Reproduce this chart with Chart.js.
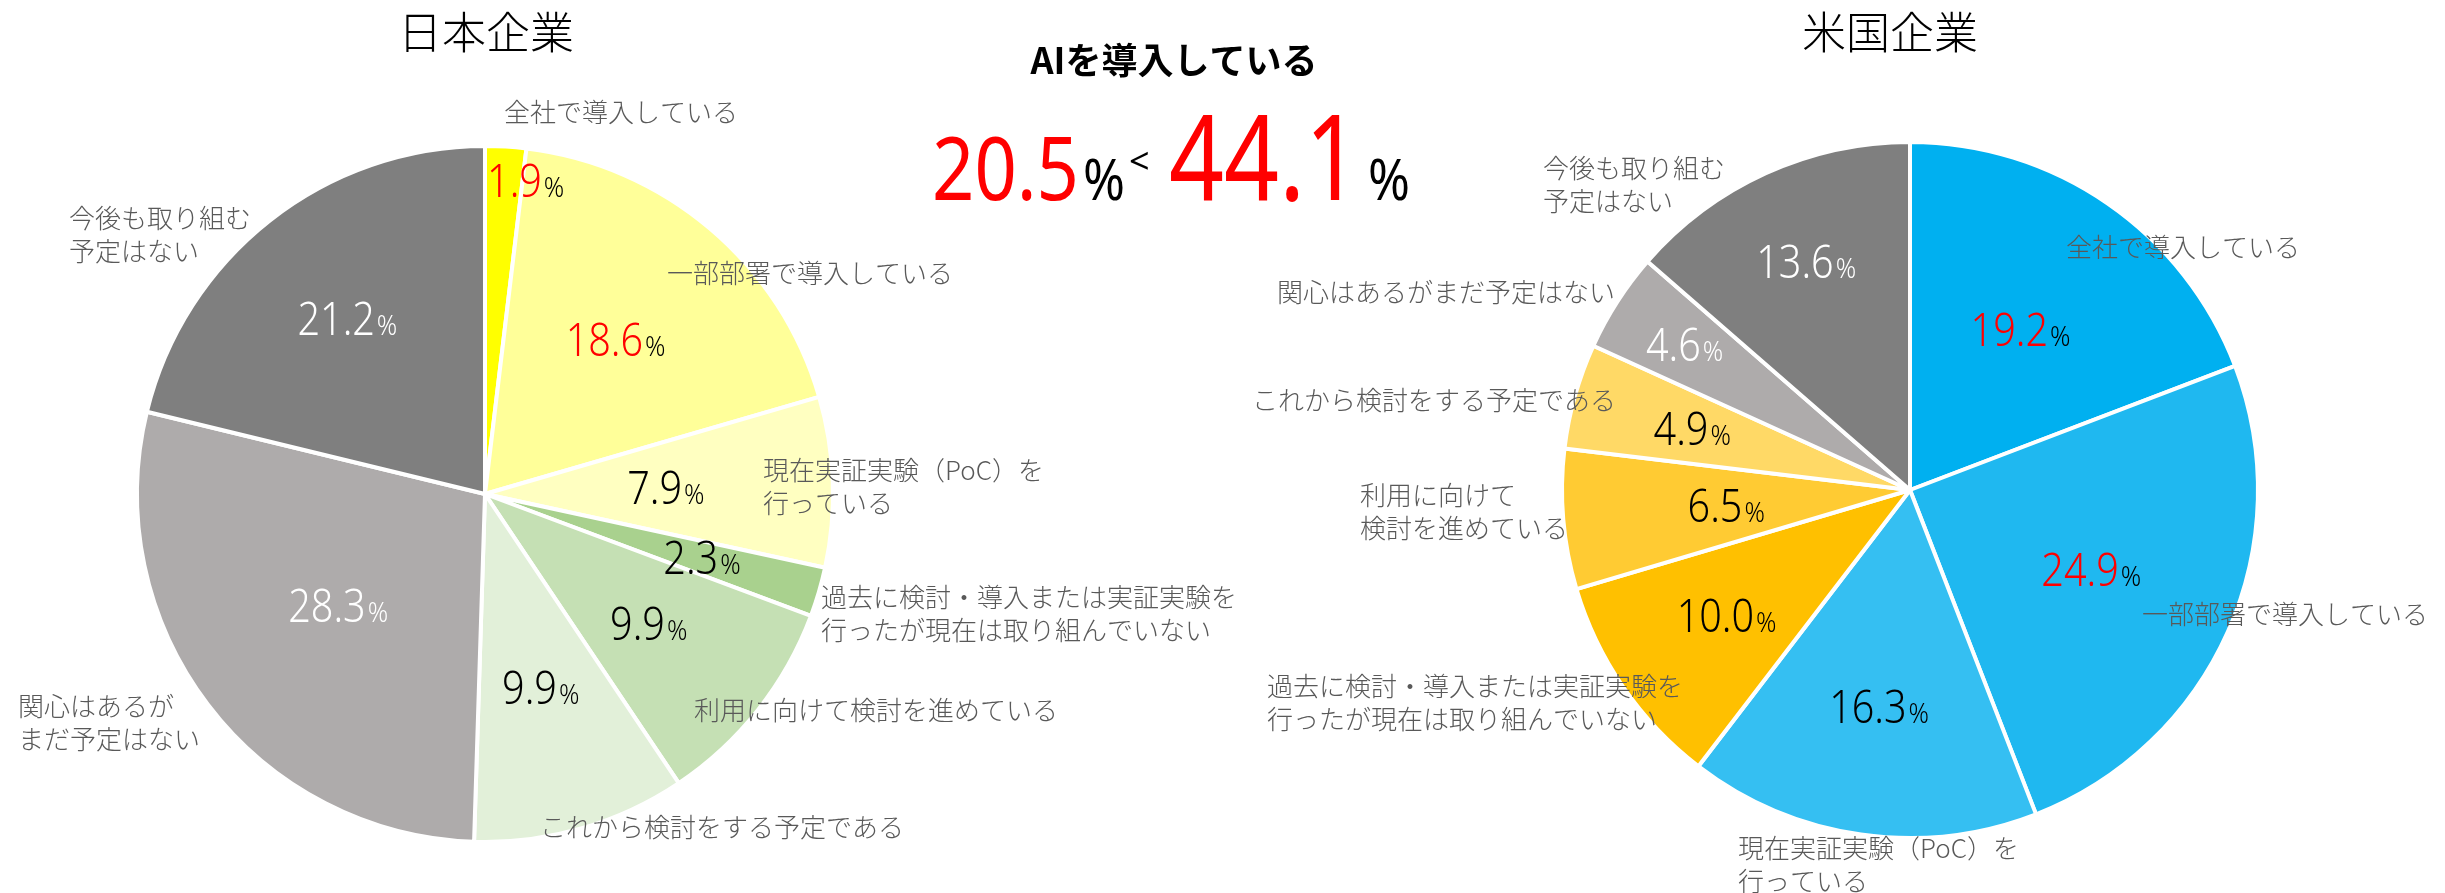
<!DOCTYPE html>
<html>
<head>
<meta charset="utf-8">
<script src="https://cdn.jsdelivr.net/npm/chart.js@4.4.0/dist/chart.umd.min.js"></script>
<style>
  html, body { margin: 0; padding: 0; background: #fff; }
  #wrap { position: relative; width: 2445px; height: 893px; }
  #wrap canvas { position: absolute; left: 0; top: 0; }
</style>
</head>
<body>
<div id="wrap">
  <canvas id="jpChart" width="2445" height="893"></canvas>
  <canvas id="usChart" width="2445" height="893"></canvas>
</div>
<script>
// --- data ---
var jpTitle = "日本企業";
var usTitle = "米国企業";
var headline = "AIを導入している";

var jpLabels = [
  ["全社で導入している"],
  ["一部部署で導入している"],
  ["現在実証実験（PoC）を", "行っている"],
  ["過去に検討・導入または実証実験を", "行ったが現在は取り組んでいない"],
  ["利用に向けて検討を進めている"],
  ["これから検討をする予定である"],
  ["関心はあるが", "まだ予定はない"],
  ["今後も取り組む", "予定はない"]
];
var jpValues = [1.9, 18.6, 7.9, 2.3, 9.9, 9.9, 28.3, 21.2];

var usLabels = [
  ["全社で導入している"],
  ["一部部署で導入している"],
  ["現在実証実験（PoC）を", "行っている"],
  ["過去に検討・導入または実証実験を", "行ったが現在は取り組んでいない"],
  ["利用に向けて", "検討を進めている"],
  ["これから検討をする予定である"],
  ["関心はあるがまだ予定はない"],
  ["今後も取り組む", "予定はない"]
];
var usValues = [19.2, 24.9, 16.3, 10.0, 6.5, 4.9, 4.6, 13.6];

var jpAdopted = 20.5;
var usAdopted = 44.1;

// --- styles ---
var jpColors = ["#FFFF00", "#FFFF99", "#FFFFC1", "#A9D18E", "#C5E0B4", "#E2F0D9", "#AEABAB", "#7F7F7F"];
var usColors = ["#00B0F0", "#1FB8F0", "#35BFF2", "#FFC000", "#FFCB33", "#FFD966", "#AEABAB", "#7F7F7F"];

var RED = "#FF0000";
var LABEL_GRAY = "#595959";
var CJK = '"Noto Sans CJK JP", "Noto Sans", sans-serif';
var NUM = '"Noto Sans", "Noto Sans CJK JP", sans-serif';

// draws "12.3%" centred on (x, y); digits slightly condensed like the original font
function drawPct(ctx, value, x, y, numColor, signColor) {
  var num = value.toFixed(1);
  ctx.font = "300 46px " + NUM;
  var wNum = ctx.measureText(num).width * 0.86;
  ctx.font = "300 28px " + NUM;
  var wSign = ctx.measureText("%").width * 0.9;
  var left = x - (wNum + wSign + 2) / 2;
  var base = y + 16;
  ctx.textAlign = "left";
  ctx.textBaseline = "alphabetic";
  ctx.fillStyle = numColor;
  ctx.font = "300 46px " + NUM;
  ctx.fillText(num, left, base, wNum);
  ctx.fillStyle = signColor;
  ctx.font = "300 28px " + NUM;
  ctx.fillText("%", left + wNum + 2, base, wSign);
}

var pieLabels = {
  id: "pieLabels",
  afterDatasetsDraw: function(chart, args, opts) {
    var ctx = chart.ctx;
    var meta = chart.getDatasetMeta(0);
    var values = chart.data.datasets[0].data;
    ctx.save();
    meta.data.forEach(function(arc, i) {
      var p = arc.getProps(["x", "y", "startAngle", "endAngle", "outerRadius"], true);
      var mid = (p.startAngle + p.endAngle) / 2;
      var r = p.outerRadius * opts.pctRadius[i];
      var px = p.x + Math.cos(mid) * r + (opts.pctShift[i] || 0);
      var py = p.y + Math.sin(mid) * r;
      var c = opts.pctColor[i];
      drawPct(ctx, values[i], px, py, c, c === RED ? "#000" : c);

      var lines = chart.data.labels[i];
      var off = opts.catPos[i];
      ctx.fillStyle = LABEL_GRAY;
      ctx.font = "300 26px " + CJK;
      ctx.textAlign = "left";
      ctx.textBaseline = "middle";
      lines.forEach(function(t, k) {
        ctx.fillText(t, p.x + off[0], p.y + off[1] + k * 33);
      });
    });
    ctx.fillStyle = "#000";
    ctx.font = "300 44px " + CJK;
    ctx.textAlign = "center";
    ctx.textBaseline = "middle";
    ctx.fillText(opts.title, opts.titleX, 32);
    ctx.restore();
  }
};

var headlinePlugin = {
  id: "headline",
  afterDraw: function(chart) {
    var ctx = chart.ctx;
    ctx.save();
    ctx.fillStyle = "#000";
    ctx.font = "700 36px " + CJK;
    ctx.textAlign = "center";
    ctx.textBaseline = "middle";
    ctx.fillText(headline, 1174, 60);

    ctx.textAlign = "left";
    ctx.textBaseline = "alphabetic";
    ctx.fillStyle = RED;
    ctx.font = "400 88px " + NUM;
    ctx.fillText(jpAdopted.toFixed(1), 932, 200, 147);
    ctx.fillStyle = "#000";
    ctx.font = "400 56px " + NUM;
    ctx.fillText("%", 1083, 200, 42);
    ctx.font = "400 36px " + NUM;
    ctx.fillText("<", 1129, 174, 23);
    ctx.fillStyle = RED;
    ctx.font = "400 119px " + NUM;
    ctx.fillText(usAdopted.toFixed(1), 1169, 200, 191);
    ctx.fillStyle = "#000";
    ctx.font = "400 56px " + NUM;
    ctx.fillText("%", 1368, 200, 42);
    ctx.restore();
  }
};

function makePie(id, labels, values, colors, padding, labelOpts, extraPlugins) {
  return new Chart(document.getElementById(id), {
    type: "pie",
    data: {
      labels: labels,
      datasets: [{
        data: values,
        backgroundColor: colors,
        borderColor: "#FFFFFF",
        borderWidth: 4
      }]
    },
    options: {
      responsive: false,
      animation: false,
      radius: 348,
      layout: { padding: padding },
      events: [],
      plugins: {
        legend: { display: false },
        tooltip: { enabled: false },
        title: { display: false },
        pieLabels: labelOpts
      }
    },
    plugins: [pieLabels].concat(extraPlugins || [])
  });
}

makePie("jpChart", jpLabels, jpValues, jpColors,
  { left: 0, right: 1475, top: 95, bottom: 0 },
  {
    title: jpTitle,
    titleX: 486,
    pctRadius: [0.9, 0.58, 0.52, 0.65, 0.6, 0.58, 0.53, 0.64],
    pctShift: [22, 0, 0, 0, 0, 0, 0, 0],
    pctColor: [RED, RED, "#000", "#000", "#000", "#000", "#FFF", "#FFF"],
    catPos: [[19, -382], [182, -221], [278, -24], [336, 103], [209, 216], [55, 333], [-467, 212], [-416, -276]]
  },
  [headlinePlugin]);

makePie("usChart", usLabels, usValues, usColors,
  { left: 1375, right: 0, top: 87, bottom: 0 },
  {
    title: usTitle,
    titleX: 1890,
    pctRadius: [0.56, 0.57, 0.63, 0.64, 0.53, 0.65, 0.77, 0.72],
    pctShift: [0, 0, 0, 0, 0, 0, 0, 0],
    pctColor: [RED, RED, "#000", "#000", "#000", "#000", "#FFF", "#FFF"],
    catPos: [[156, -243], [232, 124], [-172, 358], [-643, 196], [-550, 5], [-658, -90], [-633, -198], [-367, -322]]
  });
</script>
</body>
</html>
